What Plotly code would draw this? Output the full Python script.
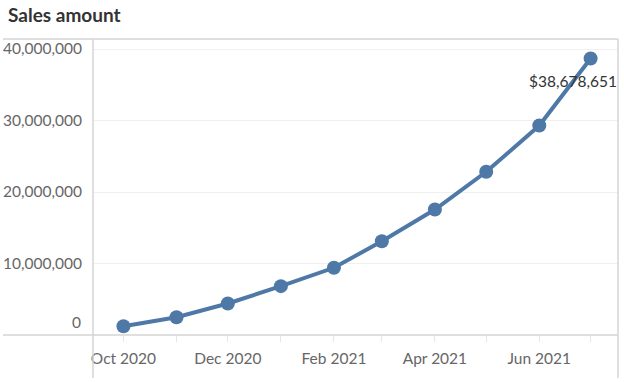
import plotly.graph_objects as go

months = ["2020-10-01", "2020-11-01", "2020-12-01", "2021-01-01", "2021-02-01",
          "2021-03-01", "2021-04-01", "2021-05-01", "2021-06-01", "2021-07-01"]
sales = [1230000, 2490000, 4410000, 6830000, 9400000,
         13120000, 17550000, 22830000, 29300000, 38678651]
ytick_vals = [0, 10000000, 20000000, 30000000, 40000000]
ytick_text = ["", "10,000,000", "20,000,000", "30,000,000", "40,000,000"]

LINE = "#4e79a7"
AX = "#d4d4d4"
FONT = "Lato"

fig = go.Figure()
fig.add_trace(go.Scatter(
    x=months, y=sales, mode="lines+markers",
    line=dict(color=LINE, width=4),
    marker=dict(color=LINE, size=14),
    hoverinfo="skip", showlegend=False, cliponaxis=False,
))

fig.update_layout(
    width=624, height=383,
    margin=dict(l=93, r=6, t=39, b=48, autoexpand=False),
    paper_bgcolor="white", plot_bgcolor="white",
    font=dict(family=FONT, size=15, color="#666666"),
    title=dict(text="<b>Sales amount</b>", x=8 / 624, xref="container", xanchor="left",
               y=1 - 15 / 383, yref="container", yanchor="middle", pad=dict(t=0, l=0),
               automargin=False,
               font=dict(family=FONT, size=19, color="#333333")),
    xaxis=dict(
        type="date", range=["2020-09-13 05:00", "2021-07-17"],
        tick0="2020-10-01", dtick="M2", tickformat="%b %Y",
        ticks="outside", ticklen=6, tickcolor="#e6e6e6", tickwidth=1,
        minor=dict(dtick="M1", ticks="outside", ticklen=6, tickcolor="#e6e6e6"),
        showgrid=False, showline=False, zeroline=False, automargin=False,
        ticklabelstandoff=3,
        tickfont=dict(family=FONT, size=15.5, color="#666666"),
    ),
    yaxis=dict(
        range=[0, 41400000], tickvals=ytick_vals, ticktext=ytick_text,
        showgrid=True, gridcolor="#f0f0f0", gridwidth=1,
        zeroline=False, showline=False, ticks="", automargin=False,
        ticklabelstandoff=10,
        tickfont=dict(family=FONT, size=15.5, color="#666666"),
    ),
    shapes=[
        dict(type="line", xref="paper", yref="paper", x0=-0.1714, x1=1, y0=0, y1=0,
             line=dict(color=AX, width=1.5)),
        dict(type="line", xref="paper", yref="paper", x0=-0.1714, x1=1, y0=1, y1=1,
             line=dict(color=AX, width=1.5)),
        dict(type="line", xref="paper", yref="paper", x0=0, x1=0, y0=-0.145, y1=1,
             line=dict(color=AX, width=1.5)),
        dict(type="line", xref="paper", yref="paper", x0=1, x1=1, y0=-0.145, y1=1,
             line=dict(color=AX, width=1.5)),
    ],
    annotations=[
        dict(x=0, xref="paper", y=ytick_vals[0], yref="y", text="0",
             xanchor="right", yanchor="middle", xshift=-10, yshift=13,
             showarrow=False, font=dict(family=FONT, size=15.5, color="#666666")),
        dict(x=months[-1], y=sales[-1], xref="x", yref="y",
             text="$" + f"{sales[-1]:,}", xanchor="right", yanchor="middle",
             xshift=28, yshift=-23, showarrow=False,
             font=dict(family=FONT, size=15.5, color="#333333")),
    ],
)

fig.write_html("out.html", config={"displayModeBar": False},
               post_script="document.body.style.margin='0';")
